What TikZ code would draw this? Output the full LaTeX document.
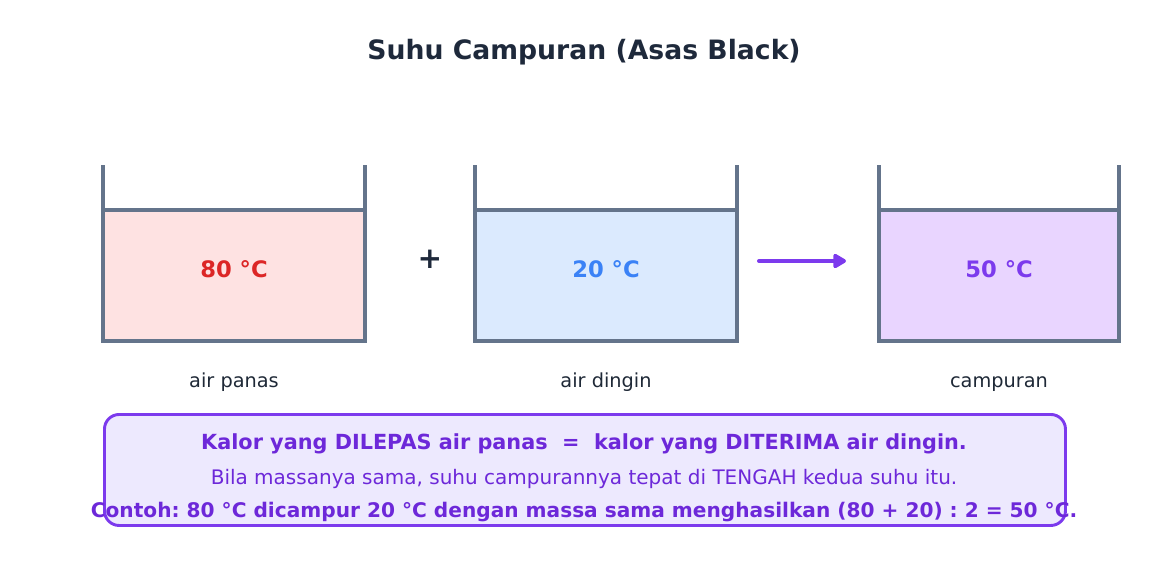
\documentclass[tikz,border=0pt]{standalone}
\usepackage{fontspec}
\setmainfont{DejaVu Sans}
\usetikzlibrary{arrows.meta}
\frenchspacing
\begin{document}
\begin{tikzpicture}[x=0.75pt, y=-0.75pt]
  % Colors
  \definecolor{titlecol}{RGB}{30,41,59}
  \definecolor{labelcol}{RGB}{31,41,55}
  \definecolor{wallcol}{RGB}{100,116,139}
  \definecolor{hotfill}{RGB}{254,226,226}
  \definecolor{hottext}{RGB}{220,38,38}
  \definecolor{coldfill}{RGB}{219,234,254}
  \definecolor{coldtext}{RGB}{59,130,246}
  \definecolor{mixfill}{RGB}{233,213,255}
  \definecolor{mixtext}{RGB}{124,58,237}
  \definecolor{notefill}{RGB}{237,233,254}
  \definecolor{notetext}{RGB}{109,40,217}
  %
  \def\wtop{210}
  \def\wbot{341}
  \def\rim{167}
  %
  \tikzset{
    water/.style={draw=none, minimum height=131*0.75pt, inner sep=0pt, anchor=north west},
    wall/.style={draw=wallcol, line width=2.6pt, line cap=rect},
    temp/.style={font=\fontsize{17}{20}\selectfont\bfseries},
    blabel/.style={font=\fontsize{14.5}{17}\selectfont, text=labelcol, anchor=base},
    notebox/.style={draw=mixtext, line width=2.2pt, fill=notefill, rounded corners=11pt,
                    minimum width=961*0.75pt, minimum height=111*0.75pt, anchor=north west},
    noteline/.style={text=notetext, font=\fontsize{15}{17}\selectfont},
  }
  %
  \useasboundingbox (0,0) rectangle (1167,583);
  %
  % Title
  \node[font=\fontsize{20}{24}\selectfont\bfseries, text=titlecol] (title) at (584,52) {Suhu Campuran (Asas Black)};
  %
  % Beakers
  \foreach \n/\xl/\xr/\fc/\tc/\deg/\lab in {
    1/103/365/hotfill/hottext/80/{air panas},
    2/475/737/coldfill/coldtext/20/{air dingin},
    3/879/1119/mixfill/mixtext/50/{campuran}%
  } {
    \node[water, fill=\fc, minimum width={(\xr-\xl)*0.75pt}] (water\n) at (\xl,\wtop) {};
    \draw[wall] (\xl,\rim) -- (\xl,\wbot) -- (\xr,\wbot) -- (\xr,\rim);
    \draw[wall] (\xl,\wtop) -- (\xr,\wtop);
    \node[temp, text=\tc] (temp\n) at ({(\xl+\xr)/2},269.5) {\deg~°C};
    \node[blabel] (lab\n) at ({(\xl+\xr)/2},387) {\lab};
  }
  %
  % Plus and arrow
  \node[font=\fontsize{22}{24}\selectfont\bfseries, text=titlecol] (plus) at (430,259) {+};
  \coordinate (arrS) at (759,261);
  \coordinate (arrE) at (846,261);
  \draw[mixtext, line width=3pt, line cap=round,
        -{Triangle[length=11pt,width=12pt,round]}] (arrS) -- (arrE);
  %
  % Note box
  \node[notebox] (note) at (103,413) {};
  \node[noteline, font=\fontsize{15.6}{17}\selectfont\bfseries] (line1) at (584,444)
    {Kalor yang DILEPAS air panas~~=~~kalor yang DITERIMA air dingin.};
  \node[noteline] (line2) at (584,479)
    {Bila massanya sama, suhu campurannya tepat di TENGAH kedua suhu itu.};
  \node[noteline, font=\fontsize{15.1}{17}\selectfont\bfseries] (line3) at (584,512)
    {Contoh: 80 °C dicampur 20 °C dengan massa sama menghasilkan (80 + 20) : 2 = 50 °C.};
\end{tikzpicture}
\end{document}
